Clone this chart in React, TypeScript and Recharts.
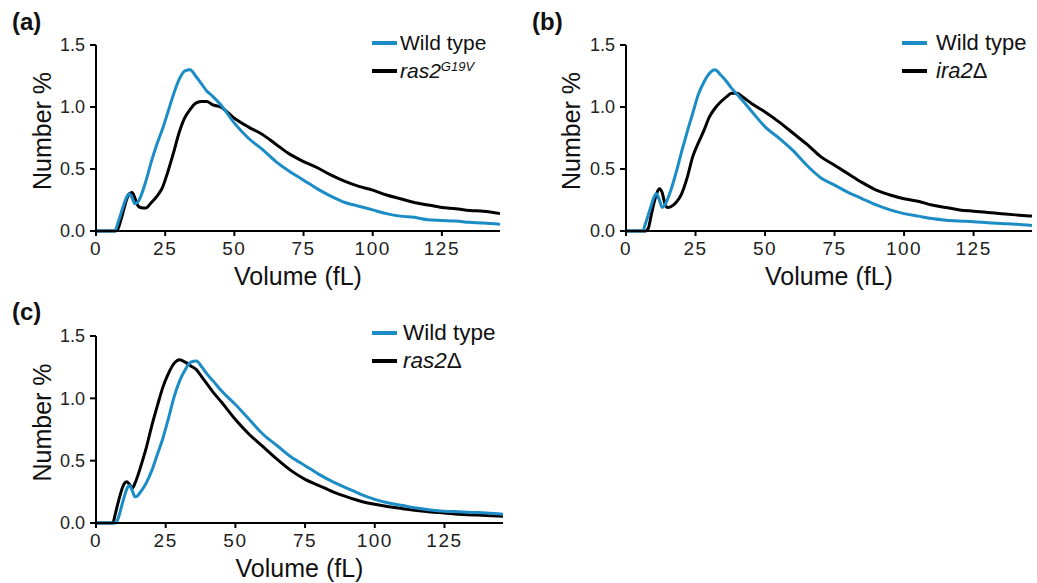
import { Label, Line, LineChart, XAxis, YAxis } from "recharts";

const volumeBins = [
	0, 6, 7, 8, 9, 10, 11, 12, 13, 14, 15, 16, 18, 20, 22, 24, 26, 28, 30, 32, 34, 36, 38, 40, 42, 45, 50, 55, 60,
	65, 70, 75, 80, 85, 90, 95, 100, 105, 110, 115, 120, 125, 130, 135, 140, 146,
];

// panel (a)
const wildTypeA = [
	0, 0, 0.01, 0.07, 0.14, 0.21, 0.27, 0.3, 0.27, 0.22, 0.23, 0.27, 0.4, 0.56, 0.7, 0.82, 0.96, 1.1, 1.22, 1.29,
	1.3, 1.25, 1.19, 1.13, 1.09, 1.02, 0.87, 0.75, 0.66, 0.56, 0.48, 0.41, 0.34, 0.28, 0.23, 0.2, 0.17, 0.14, 0.12,
	0.11, 0.09, 0.085, 0.08, 0.07, 0.065, 0.055,
];
const ras2G19V = [
	0, 0, 0, 0.02, 0.09, 0.17, 0.25, 0.3, 0.31, 0.27, 0.21, 0.19, 0.185, 0.23, 0.28, 0.35, 0.48, 0.63, 0.79, 0.91,
	0.98, 1.03, 1.045, 1.045, 1.02, 1.0, 0.91, 0.84, 0.78, 0.7, 0.62, 0.56, 0.51, 0.45, 0.4, 0.36, 0.33, 0.29, 0.26,
	0.23, 0.21, 0.19, 0.18, 0.165, 0.16, 0.14,
];

// panel (b)
const wildTypeB = [
	0, 0, 0.06, 0.13, 0.2, 0.27, 0.3, 0.25, 0.19, 0.21, 0.26, 0.32, 0.47, 0.64, 0.8, 0.95, 1.1, 1.2, 1.27, 1.3, 1.26,
	1.21, 1.15, 1.1, 1.05, 0.97, 0.84, 0.75, 0.65, 0.53, 0.43, 0.37, 0.31, 0.26, 0.21, 0.17, 0.14, 0.12, 0.1, 0.087,
	0.08, 0.075, 0.067, 0.06, 0.055, 0.045,
];
const ira2Del = [
	0, 0, 0, 0.02, 0.12, 0.22, 0.3, 0.34, 0.31, 0.22, 0.19, 0.195, 0.23, 0.3, 0.43, 0.6, 0.71, 0.81, 0.92, 0.99,
	1.04, 1.08, 1.11, 1.11, 1.08, 1.03, 0.96, 0.88, 0.79, 0.7, 0.6, 0.53, 0.46, 0.39, 0.33, 0.29, 0.26, 0.24, 0.21,
	0.19, 0.17, 0.16, 0.15, 0.14, 0.13, 0.12,
];

// panel (c)
const wildTypeC = [
	0, 0, 0, 0.04, 0.12, 0.2, 0.27, 0.3, 0.26, 0.21, 0.22, 0.25, 0.32, 0.42, 0.55, 0.68, 0.84, 1.01, 1.14, 1.23,
	1.29, 1.3, 1.25, 1.19, 1.14, 1.06, 0.95, 0.83, 0.71, 0.62, 0.53, 0.46, 0.39, 0.33, 0.28, 0.23, 0.19, 0.16, 0.14,
	0.12, 0.105, 0.095, 0.09, 0.085, 0.08, 0.07,
];
const ras2Del = [
	0, 0, 0.08, 0.17, 0.25, 0.31, 0.33, 0.31, 0.28, 0.32, 0.38, 0.45, 0.6, 0.78, 0.94, 1.09, 1.2, 1.28, 1.31, 1.29,
	1.26, 1.23, 1.17, 1.11, 1.05, 0.97, 0.83, 0.71, 0.61, 0.51, 0.42, 0.35, 0.3, 0.25, 0.21, 0.175, 0.15, 0.13, 0.115,
	0.1, 0.088, 0.08, 0.07, 0.065, 0.06, 0.055,
];

const xTicks = [0, 25, 50, 75, 100, 125];
const yTicks = [0, 0.5, 1, 1.5];

const BLUE = "#1b8cc6";
const FONT = "'Liberation Sans', Arial, sans-serif";

const toRows = (wt: number[], mut: number[]) =>
	volumeBins.map((v, i) => ({ volume: v, wildType: wt[i], mutant: mut[i] }));

type PanelProps = {
	tag: string;
	wt: number[];
	mut: number[];
	mutantLabel: React.ReactNode;
	left: number;
	top: number;
	width: number;
	height: number;
	margin: { top: number; right: number; bottom: number; left: number };
	yAxisWidth: number;
	yLabelX: number;
	legendLeft: number;
	legendGap: number;
	legendSize: number;
};

const LegendRow = ({
	color,
	gap,
	size,
	children,
}: {
	color: string;
	gap: number;
	size: number;
	children: React.ReactNode;
}) => (
	<div style={{ display: "flex", alignItems: "center", height: 28 }}>
		<div style={{ width: 25, height: 4, background: color, marginRight: gap }} />
		<span style={{ fontSize: size, color: "#111", whiteSpace: "nowrap" }}>{children}</span>
	</div>
);

const Panel = (p: PanelProps) => {
	const rows = toRows(p.wt, p.mut);
	return (
		<div style={{ position: "absolute", left: p.left, top: p.top, width: p.width, height: p.height }}>
			<LineChart width={p.width} height={p.height} data={rows} margin={p.margin}>
				<XAxis
					dataKey="volume"
					type="number"
					domain={[0, 146]}
					ticks={xTicks}
					height={52}
					axisLine={{ stroke: "#000", strokeWidth: 2 }}
					tickLine={{ stroke: "#000", strokeWidth: 2 }}
					tickSize={5}
					tickMargin={6}
					tick={{ fill: "#222", fontSize: 19, fontFamily: FONT, letterSpacing: 1.5 }}
				>
					<Label
						content={({ viewBox }: any) => (
							<text
								x={viewBox.x + viewBox.width / 2}
								y={viewBox.y + 54}
								textAnchor="middle"
								fontSize={25}
								fontFamily={FONT}
								fill="#111"
							>
								Volume (fL)
							</text>
						)}
					/>
				</XAxis>
				<YAxis
					type="number"
					domain={[0, 1.5]}
					ticks={yTicks}
					width={p.yAxisWidth}
					tickFormatter={(v: number) => v.toFixed(1)}
					axisLine={{ stroke: "#000", strokeWidth: 2 }}
					tickLine={{ stroke: "#000", strokeWidth: 2 }}
					tickSize={6}
					tickMargin={5}
					tick={{ fill: "#222", fontSize: 18, fontFamily: FONT }}
				>
					<Label
						content={({ viewBox }: any) => {
							const cx = p.yLabelX;
							const cy = viewBox.y + viewBox.height / 2 - 7;
							return (
								<text
									x={cx}
									y={cy}
									transform={`rotate(-90, ${cx}, ${cy})`}
									textAnchor="middle"
									dominantBaseline="central"
									fontSize={25}
									fontFamily={FONT}
									fill="#111"
								>
									Number %
								</text>
							);
						}}
					/>
				</YAxis>
				<Line
					type="monotone"
					dataKey="mutant"
					stroke="#000"
					strokeWidth={3}
					dot={false}
					isAnimationActive={false}
				/>
				<Line
					type="monotone"
					dataKey="wildType"
					stroke={BLUE}
					strokeWidth={3}
					dot={false}
					isAnimationActive={false}
				/>
			</LineChart>
			<div
				style={{
					position: "absolute",
					left: 12,
					top: 8,
					fontSize: 24,
					fontWeight: "bold",
					fontFamily: FONT,
					color: "#111",
				}}
			>
				{p.tag}
			</div>
			<div style={{ position: "absolute", left: p.legendLeft, top: 29, fontFamily: FONT }}>
				<LegendRow color={BLUE} gap={p.legendGap} size={p.legendSize}>
					Wild type
				</LegendRow>
				<LegendRow color="#000" gap={p.legendGap} size={p.legendSize}>
					{p.mutantLabel}
				</LegendRow>
			</div>
		</div>
	);
};

export default function App() {
	return (
		<div style={{ position: "absolute", left: 0, top: 0, width: 1037, height: 583, background: "#fff" }}>
			<Panel
				tag="(a)"
				wt={wildTypeA}
				mut={ras2G19V}
				mutantLabel={
					<>
						<i>ras2</i>
						<sup style={{ fontSize: 13, fontStyle: "italic", verticalAlign: "7px" }}>G19V</sup>
					</>
				}
				left={0}
				top={0}
				width={520}
				height={290}
				margin={{ top: 45, right: 20, bottom: 7, left: 0 }}
				yAxisWidth={96}
				yLabelX={42}
				legendLeft={372}
				legendGap={3}
				legendSize={21}
			/>
			<Panel
				tag="(b)"
				wt={wildTypeB}
				mut={ira2Del}
				mutantLabel={
					<>
						<i>ira2</i>Δ
					</>
				}
				left={520}
				top={0}
				width={517}
				height={290}
				margin={{ top: 45, right: 5, bottom: 7, left: 0 }}
				yAxisWidth={106}
				yLabelX={51}
				legendLeft={382}
				legendGap={9}
				legendSize={22}
			/>
			<Panel
				tag="(c)"
				wt={wildTypeC}
				mut={ras2Del}
				mutantLabel={
					<>
						<i>ras2</i>Δ
					</>
				}
				left={0}
				top={290}
				width={520}
				height={293}
				margin={{ top: 46, right: 17, bottom: 8, left: 0 }}
				yAxisWidth={96}
				yLabelX={42}
				legendLeft={372}
				legendGap={6}
				legendSize={22.5}
			/>
		</div>
	);
}
